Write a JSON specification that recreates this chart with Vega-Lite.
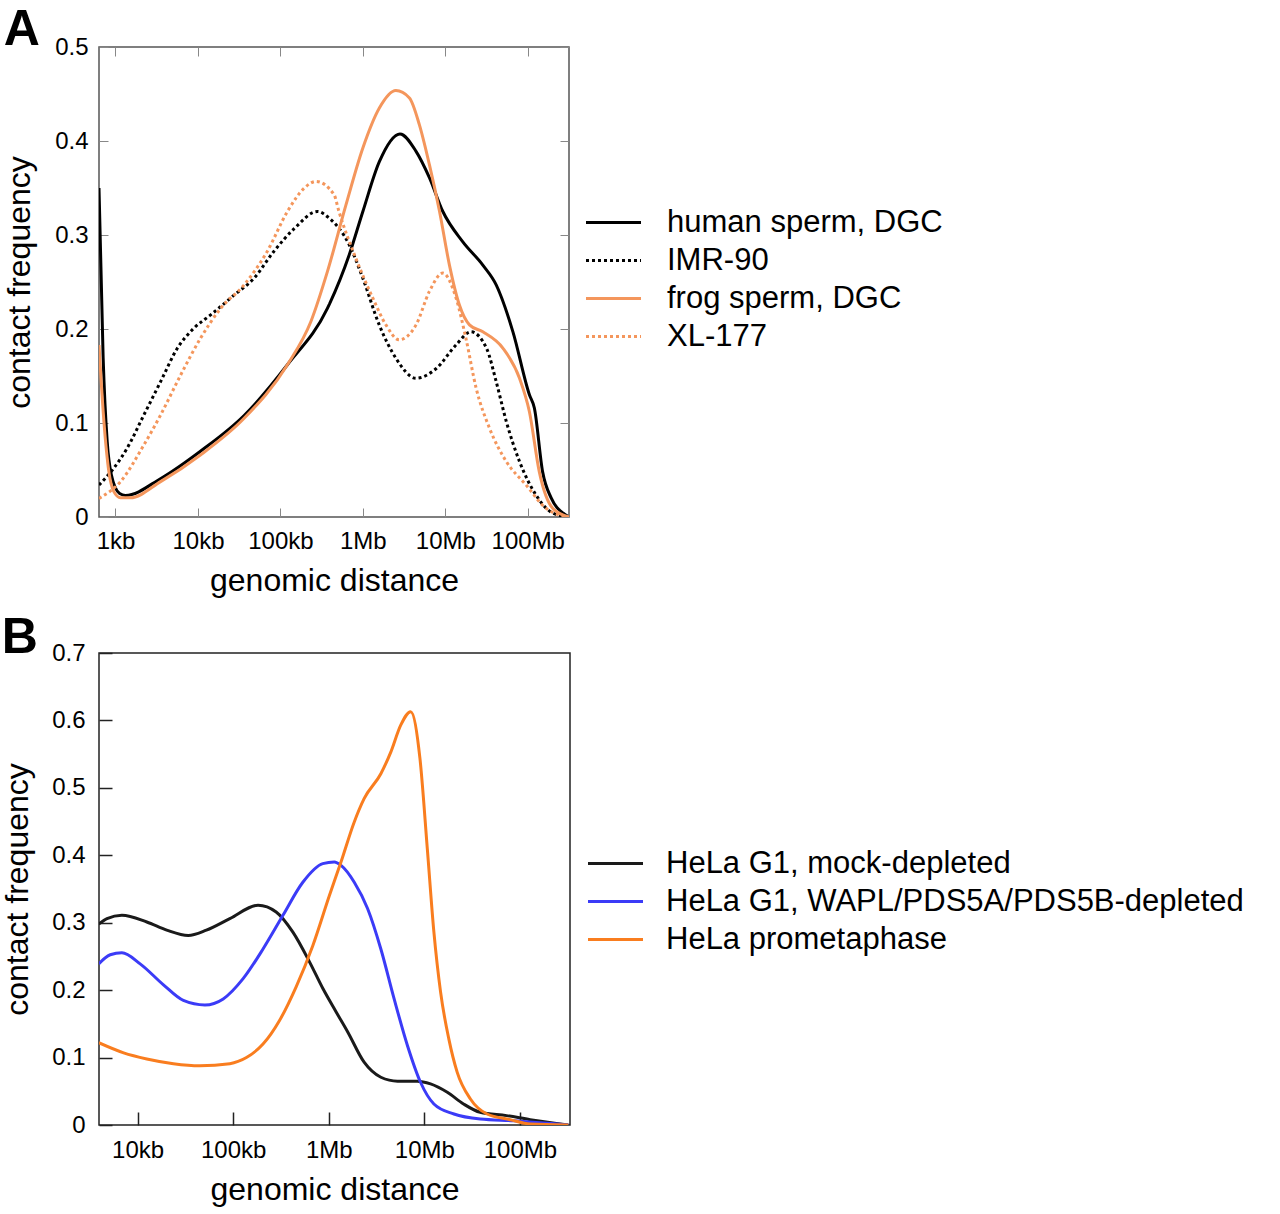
{
  "$schema": "https://vega.github.io/schema/vega-lite/v6.json",
  "padding": {"left": 0, "top": 4, "right": 5, "bottom": 5},
  "background": "white",
  "spacing": 15,
  "resolve": {"scale": {"color": "independent", "strokeDash": "independent"}, "legend": {"color": "independent", "strokeDash": "independent"}},
  "config": {
    "font": "Liberation Sans",
    "axis": {"grid": false, "domain": false, "labelFontSize": 24, "labelColor": "black", "titleFontSize": 32, "titleFontWeight": "normal", "titleColor": "black", "labelFlush": false},
    "legend": {"labelFontSize": 31, "labelColor": "black", "labelLimit": 0, "symbolType": "M-2.5,0H2.5", "symbolSize": 484, "symbolStrokeWidth": 3, "labelOffset": 38, "rowPadding": 6, "title": null},
    "title": {"fontSize": 50, "fontWeight": "bold", "anchor": "start", "frame": "bounds", "color": "black"}
  },
  "datasets": {
    "panelA": [
      {"series": "human sperm, DGC", "distance": 631, "frequency": 0.35},
      {"series": "human sperm, DGC", "distance": 708, "frequency": 0.17},
      {"series": "human sperm, DGC", "distance": 794, "frequency": 0.08},
      {"series": "human sperm, DGC", "distance": 891, "frequency": 0.045},
      {"series": "human sperm, DGC", "distance": 1122, "frequency": 0.025},
      {"series": "human sperm, DGC", "distance": 1318, "frequency": 0.023},
      {"series": "human sperm, DGC", "distance": 3548, "frequency": 0.041},
      {"series": "human sperm, DGC", "distance": 10720, "frequency": 0.07},
      {"series": "human sperm, DGC", "distance": 36310, "frequency": 0.108},
      {"series": "human sperm, DGC", "distance": 121600, "frequency": 0.162},
      {"series": "human sperm, DGC", "distance": 371500, "frequency": 0.222},
      {"series": "human sperm, DGC", "distance": 683900, "frequency": 0.279},
      {"series": "human sperm, DGC", "distance": 1000000, "frequency": 0.325},
      {"series": "human sperm, DGC", "distance": 1585000, "frequency": 0.378},
      {"series": "human sperm, DGC", "distance": 2818000, "frequency": 0.4075},
      {"series": "human sperm, DGC", "distance": 4416000, "frequency": 0.389},
      {"series": "human sperm, DGC", "distance": 6412000, "frequency": 0.361},
      {"series": "human sperm, DGC", "distance": 9333000, "frequency": 0.325},
      {"series": "human sperm, DGC", "distance": 16220000, "frequency": 0.293},
      {"series": "human sperm, DGC", "distance": 28510000, "frequency": 0.268},
      {"series": "human sperm, DGC", "distance": 41400000, "frequency": 0.247},
      {"series": "human sperm, DGC", "distance": 66070000, "frequency": 0.197},
      {"series": "human sperm, DGC", "distance": 104700000, "frequency": 0.13},
      {"series": "human sperm, DGC", "distance": 120200000, "frequency": 0.116},
      {"series": "human sperm, DGC", "distance": 151400000, "frequency": 0.048},
      {"series": "human sperm, DGC", "distance": 192800000, "frequency": 0.02},
      {"series": "human sperm, DGC", "distance": 269200000, "frequency": 0.004},
      {"series": "human sperm, DGC", "distance": 316200000, "frequency": 0.0},
      {"series": "IMR-90", "distance": 631, "frequency": 0.034},
      {"series": "IMR-90", "distance": 955, "frequency": 0.052},
      {"series": "IMR-90", "distance": 1380, "frequency": 0.073},
      {"series": "IMR-90", "distance": 2208, "frequency": 0.1085},
      {"series": "IMR-90", "distance": 3524, "frequency": 0.144},
      {"series": "IMR-90", "distance": 5623, "frequency": 0.1795},
      {"series": "IMR-90", "distance": 8913, "frequency": 0.2008},
      {"series": "IMR-90", "distance": 14260, "frequency": 0.215},
      {"series": "IMR-90", "distance": 27350, "frequency": 0.236},
      {"series": "IMR-90", "distance": 47860, "frequency": 0.254},
      {"series": "IMR-90", "distance": 83180, "frequency": 0.2825},
      {"series": "IMR-90", "distance": 147900, "frequency": 0.307},
      {"series": "IMR-90", "distance": 281800, "frequency": 0.325},
      {"series": "IMR-90", "distance": 389000, "frequency": 0.318},
      {"series": "IMR-90", "distance": 683900, "frequency": 0.2896},
      {"series": "IMR-90", "distance": 1000000, "frequency": 0.254},
      {"series": "IMR-90", "distance": 1585000, "frequency": 0.204},
      {"series": "IMR-90", "distance": 2512000, "frequency": 0.169},
      {"series": "IMR-90", "distance": 4416000, "frequency": 0.1476},
      {"series": "IMR-90", "distance": 7762000, "frequency": 0.158},
      {"series": "IMR-90", "distance": 13490000, "frequency": 0.183},
      {"series": "IMR-90", "distance": 20420000, "frequency": 0.197},
      {"series": "IMR-90", "distance": 31620000, "frequency": 0.1795},
      {"series": "IMR-90", "distance": 41400000, "frequency": 0.144},
      {"series": "IMR-90", "distance": 54950000, "frequency": 0.1015},
      {"series": "IMR-90", "distance": 79430000, "frequency": 0.059},
      {"series": "IMR-90", "distance": 125900000, "frequency": 0.0233},
      {"series": "IMR-90", "distance": 201800000, "frequency": 0.004},
      {"series": "IMR-90", "distance": 316200000, "frequency": 0.0},
      {"series": "frog sperm, DGC", "distance": 631, "frequency": 0.183},
      {"series": "frog sperm, DGC", "distance": 724, "frequency": 0.1015},
      {"series": "frog sperm, DGC", "distance": 832, "frequency": 0.048},
      {"series": "frog sperm, DGC", "distance": 955, "frequency": 0.027},
      {"series": "frog sperm, DGC", "distance": 1148, "frequency": 0.0205},
      {"series": "frog sperm, DGC", "distance": 1514, "frequency": 0.0205},
      {"series": "frog sperm, DGC", "distance": 3524, "frequency": 0.0376},
      {"series": "frog sperm, DGC", "distance": 10720, "frequency": 0.066},
      {"series": "frog sperm, DGC", "distance": 36310, "frequency": 0.105},
      {"series": "frog sperm, DGC", "distance": 121600, "frequency": 0.162},
      {"series": "frog sperm, DGC", "distance": 234400, "frequency": 0.208},
      {"series": "frog sperm, DGC", "distance": 371500, "frequency": 0.261},
      {"series": "frog sperm, DGC", "distance": 623700, "frequency": 0.332},
      {"series": "frog sperm, DGC", "distance": 1000000, "frequency": 0.3925},
      {"series": "frog sperm, DGC", "distance": 1585000, "frequency": 0.435},
      {"series": "frog sperm, DGC", "distance": 2512000, "frequency": 0.4536},
      {"series": "frog sperm, DGC", "distance": 3673000, "frequency": 0.4458},
      {"series": "frog sperm, DGC", "distance": 4842000, "frequency": 0.4174},
      {"series": "frog sperm, DGC", "distance": 6412000, "frequency": 0.3748},
      {"series": "frog sperm, DGC", "distance": 8511000, "frequency": 0.325},
      {"series": "frog sperm, DGC", "distance": 11220000, "frequency": 0.268},
      {"series": "frog sperm, DGC", "distance": 14790000, "frequency": 0.2257},
      {"series": "frog sperm, DGC", "distance": 19630000, "frequency": 0.2044},
      {"series": "frog sperm, DGC", "distance": 28510000, "frequency": 0.197},
      {"series": "frog sperm, DGC", "distance": 50120000, "frequency": 0.1795},
      {"series": "frog sperm, DGC", "distance": 79430000, "frequency": 0.1476},
      {"series": "frog sperm, DGC", "distance": 104700000, "frequency": 0.112},
      {"series": "frog sperm, DGC", "distance": 138000000, "frequency": 0.048},
      {"series": "frog sperm, DGC", "distance": 201800000, "frequency": 0.009},
      {"series": "frog sperm, DGC", "distance": 316200000, "frequency": 0.0},
      {"series": "XL-177", "distance": 631, "frequency": 0.0198},
      {"series": "XL-177", "distance": 1148, "frequency": 0.0376},
      {"series": "XL-177", "distance": 2208, "frequency": 0.0766},
      {"series": "XL-177", "distance": 3524, "frequency": 0.1085},
      {"series": "XL-177", "distance": 6166, "frequency": 0.151},
      {"series": "XL-177", "distance": 10720, "frequency": 0.19},
      {"series": "XL-177", "distance": 18880, "frequency": 0.222},
      {"series": "XL-177", "distance": 36310, "frequency": 0.247},
      {"series": "XL-177", "distance": 69180, "frequency": 0.2825},
      {"series": "XL-177", "distance": 121600, "frequency": 0.325},
      {"series": "XL-177", "distance": 195000, "frequency": 0.35},
      {"series": "XL-177", "distance": 269200, "frequency": 0.357},
      {"series": "XL-177", "distance": 446700, "frequency": 0.343},
      {"series": "XL-177", "distance": 512900, "frequency": 0.325},
      {"series": "XL-177", "distance": 824100, "frequency": 0.275},
      {"series": "XL-177", "distance": 1318000, "frequency": 0.233},
      {"series": "XL-177", "distance": 1905000, "frequency": 0.2044},
      {"series": "XL-177", "distance": 2754000, "frequency": 0.1885},
      {"series": "XL-177", "distance": 4416000, "frequency": 0.2044},
      {"series": "XL-177", "distance": 6412000, "frequency": 0.24},
      {"series": "XL-177", "distance": 9333000, "frequency": 0.2595},
      {"series": "XL-177", "distance": 13490000, "frequency": 0.233},
      {"series": "XL-177", "distance": 17780000, "frequency": 0.19},
      {"series": "XL-177", "distance": 23660000, "frequency": 0.137},
      {"series": "XL-177", "distance": 34360000, "frequency": 0.0944},
      {"series": "XL-177", "distance": 54950000, "frequency": 0.059},
      {"series": "XL-177", "distance": 95500000, "frequency": 0.034},
      {"series": "XL-177", "distance": 167900000, "frequency": 0.009},
      {"series": "XL-177", "distance": 316200000, "frequency": 0.0}
    ],
    "panelB": [
      {"series": "HeLa G1, mock-depleted", "distance": 3926, "frequency": 0.298},
      {"series": "HeLa G1, mock-depleted", "distance": 4786, "frequency": 0.306},
      {"series": "HeLa G1, mock-depleted", "distance": 6855, "frequency": 0.311},
      {"series": "HeLa G1, mock-depleted", "distance": 12500, "frequency": 0.301},
      {"series": "HeLa G1, mock-depleted", "distance": 20180, "frequency": 0.289},
      {"series": "HeLa G1, mock-depleted", "distance": 33880, "frequency": 0.281},
      {"series": "HeLa G1, mock-depleted", "distance": 52480, "frequency": 0.289},
      {"series": "HeLa G1, mock-depleted", "distance": 92260, "frequency": 0.306},
      {"series": "HeLa G1, mock-depleted", "distance": 182000, "frequency": 0.326},
      {"series": "HeLa G1, mock-depleted", "distance": 281800, "frequency": 0.316},
      {"series": "HeLa G1, mock-depleted", "distance": 421700, "frequency": 0.286},
      {"series": "HeLa G1, mock-depleted", "distance": 631000, "frequency": 0.2416},
      {"series": "HeLa G1, mock-depleted", "distance": 871000, "frequency": 0.202},
      {"series": "HeLa G1, mock-depleted", "distance": 1191000, "frequency": 0.168},
      {"series": "HeLa G1, mock-depleted", "distance": 1585000, "frequency": 0.1376},
      {"series": "HeLa G1, mock-depleted", "distance": 2344000, "frequency": 0.0931},
      {"series": "HeLa G1, mock-depleted", "distance": 3508000, "frequency": 0.0708},
      {"series": "HeLa G1, mock-depleted", "distance": 5248000, "frequency": 0.0649},
      {"series": "HeLa G1, mock-depleted", "distance": 8414000, "frequency": 0.0649},
      {"series": "HeLa G1, mock-depleted", "distance": 11610000, "frequency": 0.0609},
      {"series": "HeLa G1, mock-depleted", "distance": 17380000, "frequency": 0.0485},
      {"series": "HeLa G1, mock-depleted", "distance": 25700000, "frequency": 0.0312},
      {"series": "HeLa G1, mock-depleted", "distance": 38460000, "frequency": 0.0188},
      {"series": "HeLa G1, mock-depleted", "distance": 72440000, "frequency": 0.0139},
      {"series": "HeLa G1, mock-depleted", "distance": 127900000, "frequency": 0.0079},
      {"series": "HeLa G1, mock-depleted", "distance": 320600000, "frequency": 0.0},
      {"series": "HeLa G1, WAPL/PDS5A/PDS5B-depleted", "distance": 3926, "frequency": 0.239},
      {"series": "HeLa G1, WAPL/PDS5A/PDS5B-depleted", "distance": 5176, "frequency": 0.2525},
      {"series": "HeLa G1, WAPL/PDS5A/PDS5B-depleted", "distance": 6855, "frequency": 0.2554},
      {"series": "HeLa G1, WAPL/PDS5A/PDS5B-depleted", "distance": 10640, "frequency": 0.239},
      {"series": "HeLa G1, WAPL/PDS5A/PDS5B-depleted", "distance": 18660, "frequency": 0.2079},
      {"series": "HeLa G1, WAPL/PDS5A/PDS5B-depleted", "distance": 30130, "frequency": 0.1847},
      {"series": "HeLa G1, WAPL/PDS5A/PDS5B-depleted", "distance": 50580, "frequency": 0.178},
      {"series": "HeLa G1, WAPL/PDS5A/PDS5B-depleted", "distance": 78700, "frequency": 0.187},
      {"series": "HeLa G1, WAPL/PDS5A/PDS5B-depleted", "distance": 127100, "frequency": 0.217},
      {"series": "HeLa G1, WAPL/PDS5A/PDS5B-depleted", "distance": 205300, "frequency": 0.261},
      {"series": "HeLa G1, WAPL/PDS5A/PDS5B-depleted", "distance": 331900, "frequency": 0.311},
      {"series": "HeLa G1, WAPL/PDS5A/PDS5B-depleted", "distance": 535800, "frequency": 0.36},
      {"series": "HeLa G1, WAPL/PDS5A/PDS5B-depleted", "distance": 866000, "frequency": 0.3876},
      {"series": "HeLa G1, WAPL/PDS5A/PDS5B-depleted", "distance": 1143000, "frequency": 0.39},
      {"series": "HeLa G1, WAPL/PDS5A/PDS5B-depleted", "distance": 1343000, "frequency": 0.385},
      {"series": "HeLa G1, WAPL/PDS5A/PDS5B-depleted", "distance": 1849000, "frequency": 0.36},
      {"series": "HeLa G1, WAPL/PDS5A/PDS5B-depleted", "distance": 2547000, "frequency": 0.321},
      {"series": "HeLa G1, WAPL/PDS5A/PDS5B-depleted", "distance": 3508000, "frequency": 0.261},
      {"series": "HeLa G1, WAPL/PDS5A/PDS5B-depleted", "distance": 4831000, "frequency": 0.187},
      {"series": "HeLa G1, WAPL/PDS5A/PDS5B-depleted", "distance": 6653000, "frequency": 0.118},
      {"series": "HeLa G1, WAPL/PDS5A/PDS5B-depleted", "distance": 9120000, "frequency": 0.0634},
      {"series": "HeLa G1, WAPL/PDS5A/PDS5B-depleted", "distance": 12590000, "frequency": 0.0312},
      {"series": "HeLa G1, WAPL/PDS5A/PDS5B-depleted", "distance": 20420000, "frequency": 0.0163},
      {"series": "HeLa G1, WAPL/PDS5A/PDS5B-depleted", "distance": 38460000, "frequency": 0.0089},
      {"series": "HeLa G1, WAPL/PDS5A/PDS5B-depleted", "distance": 85700000, "frequency": 0.0064},
      {"series": "HeLa G1, WAPL/PDS5A/PDS5B-depleted", "distance": 320600000, "frequency": 0.0},
      {"series": "HeLa prometaphase", "distance": 3926, "frequency": 0.122},
      {"series": "HeLa prometaphase", "distance": 7145, "frequency": 0.107},
      {"series": "HeLa prometaphase", "distance": 12500, "frequency": 0.098},
      {"series": "HeLa prometaphase", "distance": 23710, "frequency": 0.091},
      {"series": "HeLa prometaphase", "distance": 44870, "frequency": 0.088},
      {"series": "HeLa prometaphase", "distance": 92260, "frequency": 0.091},
      {"series": "HeLa prometaphase", "distance": 137700, "frequency": 0.1},
      {"series": "HeLa prometaphase", "distance": 205300, "frequency": 0.12},
      {"series": "HeLa prometaphase", "distance": 305500, "frequency": 0.155},
      {"series": "HeLa prometaphase", "distance": 456000, "frequency": 0.205},
      {"series": "HeLa prometaphase", "distance": 680800, "frequency": 0.266},
      {"series": "HeLa prometaphase", "distance": 1014000, "frequency": 0.34},
      {"series": "HeLa prometaphase", "distance": 1343000, "frequency": 0.39},
      {"series": "HeLa prometaphase", "distance": 1849000, "frequency": 0.4495},
      {"series": "HeLa prometaphase", "distance": 2344000, "frequency": 0.484},
      {"series": "HeLa prometaphase", "distance": 3508000, "frequency": 0.521},
      {"series": "HeLa prometaphase", "distance": 4457000, "frequency": 0.553},
      {"series": "HeLa prometaphase", "distance": 5662000, "frequency": 0.593},
      {"series": "HeLa prometaphase", "distance": 7194000, "frequency": 0.613},
      {"series": "HeLa prometaphase", "distance": 8995000, "frequency": 0.5436},
      {"series": "HeLa prometaphase", "distance": 10740000, "frequency": 0.41},
      {"series": "HeLa prometaphase", "distance": 12590000, "frequency": 0.286},
      {"series": "HeLa prometaphase", "distance": 14790000, "frequency": 0.197},
      {"series": "HeLa prometaphase", "distance": 18030000, "frequency": 0.1277},
      {"series": "HeLa prometaphase", "distance": 22080000, "frequency": 0.078},
      {"series": "HeLa prometaphase", "distance": 30340000, "frequency": 0.0386},
      {"series": "HeLa prometaphase", "distance": 45290000, "frequency": 0.0163},
      {"series": "HeLa prometaphase", "distance": 79250000, "frequency": 0.0079},
      {"series": "HeLa prometaphase", "distance": 127900000, "frequency": 0.0015},
      {"series": "HeLa prometaphase", "distance": 320600000, "frequency": 0.0}
    ]
  },
  "vconcat": [
    {
      "title": {"text": "A", "offset": -20},
      "width": 470,
      "height": 470,
      "view": {"stroke": "#555", "strokeWidth": 1.5},
      "data": {"name": "panelA"},
      "layer": [
        {
          "mark": {"type": "line", "interpolate": "monotone", "strokeWidth": 3, "strokeCap": "butt", "clip": true},
          "encoding": {
            "x": {
              "field": "distance", "type": "quantitative",
              "scale": {"type": "log", "domain": [631, 316200000], "nice": false},
              "axis": {"title": "genomic distance", "values": [1000, 10000, 100000, 1000000, 10000000, 100000000],
                "labelExpr": "datum.value >= 1000000 ? (datum.value / 1000000) + 'Mb' : (datum.value / 1000) + 'kb'",
                "tickSize": -9, "tickColor": "#888", "labelPadding": 21, "titlePadding": 12}
            },
            "y": {
              "field": "frequency", "type": "quantitative",
              "scale": {"domain": [0, 0.5], "nice": false},
              "axis": {"title": "contact frequency", "values": [0, 0.1, 0.2, 0.3, 0.4, 0.5],
                "labelExpr": "datum.value == 0 ? '0' : format(datum.value, '.1f')",
                "tickSize": -9, "tickColor": "#888", "labelPadding": 20, "titlePadding": 18}
            },
            "color": {
              "field": "series", "type": "nominal",
              "scale": {"domain": ["human sperm, DGC", "IMR-90", "frog sperm, DGC", "XL-177"], "range": ["#000000", "#000000", "#f4965c", "#f4965c"]},
              "legend": {"orient": "none", "legendX": 499, "legendY": 160}
            },
            "strokeDash": {
              "field": "series", "type": "nominal",
              "scale": {"domain": ["human sperm, DGC", "IMR-90", "frog sperm, DGC", "XL-177"], "range": [[600, 0], [3, 3], [600, 0], [3, 3]]},
              "legend": {"orient": "none", "legendX": 499, "legendY": 160}
            }
          }
        },
        {
          "mark": {"type": "point", "opacity": 0},
          "encoding": {
            "x": {"field": "distance", "type": "quantitative",
              "axis": {"orient": "top", "title": null, "labels": false, "values": [1000, 10000, 100000, 1000000, 10000000, 100000000], "tickSize": -9, "tickColor": "#888"}},
            "y": {"field": "frequency", "type": "quantitative",
              "axis": {"orient": "right", "title": null, "labels": false, "values": [0, 0.1, 0.2, 0.3, 0.4, 0.5], "tickSize": -9, "tickColor": "#888"}}
          }
        }
      ],
      "resolve": {"axis": {"x": "independent", "y": "independent"}}
    },
    {
      "title": {"text": "B", "offset": -22},
      "width": 471,
      "height": 472,
      "view": {"stroke": "#222", "strokeWidth": 1.5},
      "data": {"name": "panelB"},
      "mark": {"type": "line", "interpolate": "monotone", "strokeWidth": 3, "clip": true},
      "encoding": {
        "x": {
          "field": "distance", "type": "quantitative",
          "scale": {"type": "log", "domain": [3950, 334000000], "nice": false},
          "axis": {"title": "genomic distance", "values": [10000, 100000, 1000000, 10000000, 100000000],
            "labelExpr": "datum.value >= 1000000 ? (datum.value / 1000000) + 'Mb' : (datum.value / 1000) + 'kb'",
            "tickSize": -13, "tickColor": "#222", "tickWidth": 1.5, "labelPadding": 26, "titlePadding": 12}
        },
        "y": {
          "field": "frequency", "type": "quantitative",
          "scale": {"domain": [0, 0.7], "nice": false},
          "axis": {"title": "contact frequency", "values": [0, 0.1, 0.2, 0.3, 0.4, 0.5, 0.6, 0.7],
            "labelExpr": "datum.value == 0 ? '0' : format(datum.value, '.1f')",
            "tickSize": -13, "tickColor": "#222", "tickWidth": 1.5, "labelPadding": 27, "titlePadding": 17}
        },
        "color": {
          "field": "series", "type": "nominal",
          "scale": {"domain": ["HeLa G1, mock-depleted", "HeLa G1, WAPL/PDS5A/PDS5B-depleted", "HeLa prometaphase"], "range": ["#1a1a1a", "#3b3bf7", "#f97d1f"]},
          "legend": {"orient": "none", "legendX": 501, "legendY": 195, "labelOffset": 35}
        }
      }
    }
  ]
}
